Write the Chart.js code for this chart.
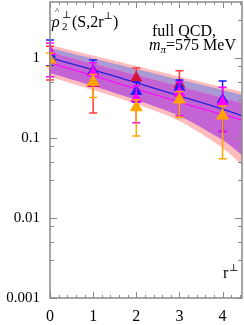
<!DOCTYPE html>
<html><head><meta charset="utf-8">
<script src="https://cdn.jsdelivr.net/npm/chart.js@4.4.1/dist/chart.umd.min.js"></script>
<style>html,body{margin:0;padding:0;background:#fff}#wrap{width:244px;height:325px}</style>
</head><body><div id="wrap"><canvas id="c" width="244" height="325"></canvas></div>
<script>
// data points (r⊥ = 0..4)
const rValues = [0, 1, 2, 3, 4];
const blueVal = [1.1, 0.68, 0.38, 0.43, 0.30];
const blueLo  = [0.8, 0.5, 0.28, 0.30, 0.12];
const blueHi  = [1.68, 0.94, 0.5, 0.53, 0.515];
const redVal  = [1.0, 0.48, 0.56, 0.47, null];
const redLo   = [0.53, 0.205, 0.38, 0.33, null];
const redHi   = [1.4, 0.72, 0.75, 0.69, null];
const magVal  = [1.2, 0.65, 0.31, 0.365, 0.28];
const magLo   = [0.58, 0.45, 0.155, 0.19, 0.12];
const magHi   = [1.54, 0.87, 0.45, 0.5, 0.43];
const orgVal  = [0.95, 0.5, 0.24, 0.30, 0.19];
const orgLo   = [0.78, 0.32, 0.106, 0.18, 0.055];
const orgHi   = [1.15, 0.62, 0.30, 0.38, 0.25];

// fit curves and bands
const fitR       = [0, 1, 2, 3, 4, 4.45];
const blueFit    = [1.0, 0.71, 0.49, 0.335, 0.23, 0.19];
const magFit     = [0.87, 0.6, 0.41, 0.28, 0.196, 0.168];
const pinkTop    = [1.454, 1.071, 0.794, 0.584, 0.432, 0.376];
const pinkBottom = [0.579, 0.398, 0.266, 0.163, 0.075, 0.046];
const lavTop     = [1.334, 0.986, 0.729, 0.536, 0.398, 0.345];
const orchidTop  = [1.189, 0.854, 0.615, 0.442, 0.318, 0.274];
const orchidBot  = [0.649, 0.447, 0.298, 0.188, 0.094, 0.061];

// axis ticks
const xMajorTicks = [0, 1, 2, 3, 4];
const xMinorTicks = [0.2,0.4,0.6,0.8,1.2,1.4,1.6,1.8,2.2,2.4,2.6,2.8,3.2,3.4,3.6,3.8,4.2,4.4];
const yMajorTicks = [0.001, 0.01, 0.1, 1];
const yMinorTicks = [0.003, 0.005, 0.008, 0.03, 0.05, 0.08, 0.3, 0.5, 0.8, 3];
const xRange = [0, 4.45];
const yRange = [0.001, 5];

const pts = (xs, ys) => xs.map((x, i) => ({x: x, y: ys[i]})).filter(p => p.y !== null);

function curve(ys, extra) {
  return Object.assign({type: 'line', data: pts(fitR, ys), pointRadius: 0, borderWidth: 0,
    tension: 0.3, fill: false}, extra);
}
function series(vals, lo, hi, color, barColor, radius, order) {
  return {type: 'scatter', data: pts(rValues, vals), errLo: lo, errHi: hi, barColor: barColor,
    pointStyle: 'triangle', pointRadius: radius, backgroundColor: color, borderColor: color,
    borderWidth: 0, order: order};
}

const datasets = [
  curve(pinkTop, {fill: 1, backgroundColor: '#ffbcbc', order: 20}),      // 0
  curve(pinkBottom, {order: 20}),                                        // 1
  curve(lavTop, {fill: 3, backgroundColor: '#a99ad6', order: 19}),       // 2
  curve(orchidTop, {fill: 4, backgroundColor: '#c463d3', order: 18}),    // 3
  curve(orchidBot, {order: 18}),                                         // 4
  curve(blueFit, {borderColor: '#2222dd', borderWidth: 1.3, order: 10}),
  curve(magFit, {borderColor: '#ff00ff', borderWidth: 1.1, order: 10}),
  series(redVal, redLo, redHi, '#d8143c', '#ff3a3a', 7, 5),
  series(blueVal, blueLo, blueHi, '#2020ff', '#1a1aff', 7, 4),
  series(magVal, magLo, magHi, '#ff00ff', '#ff00ff', 7, 3),
  series(orgVal, orgLo, orgHi, '#ffa500', '#ffa500', 7.5, 2)
];

const errorBars = {
  id: 'errorBars',
  beforeDatasetDraw(chart, args) {
    const ds = chart.data.datasets[args.index];
    if (!ds.errLo) return;
    const xs = chart.scales.x, ys = chart.scales.y, ctx = chart.ctx;
    ctx.save();
    ctx.strokeStyle = ds.barColor; ctx.lineWidth = 1.5;
    rValues.forEach((r, i) => {
      if (ds.errLo[i] == null) return;
      const px = xs.getPixelForValue(r);
      const y1 = ys.getPixelForValue(ds.errLo[i]), y2 = ys.getPixelForValue(ds.errHi[i]);
      ctx.beginPath();
      ctx.moveTo(px, y1); ctx.lineTo(px, y2);
      ctx.moveTo(px - 4, y1); ctx.lineTo(px + 4, y1);
      ctx.moveTo(px - 4, y2); ctx.lineTo(px + 4, y2);
      ctx.stroke();
    });
    ctx.restore();
  }
};

const frame = {
  id: 'frame',
  afterDraw(chart) {
    const {ctx, chartArea: a} = chart;
    const xs = chart.scales.x, ys = chart.scales.y;
    ctx.save();
    ctx.strokeStyle = '#8a8a8a'; ctx.lineWidth = 1.5;
    ctx.strokeRect(a.left, a.top, a.right - a.left, a.bottom - a.top);
    ctx.lineWidth = 1;
    ctx.beginPath();
    const tx = (v, len) => { const p = Math.round(xs.getPixelForValue(v)) + 0.5;
      ctx.moveTo(p, a.bottom); ctx.lineTo(p, a.bottom - len);
      ctx.moveTo(p, a.top); ctx.lineTo(p, a.top + len); };
    const ty = (v, len) => { const p = Math.round(ys.getPixelForValue(v)) + 0.5;
      ctx.moveTo(a.left, p); ctx.lineTo(a.left + len, p);
      ctx.moveTo(a.right, p); ctx.lineTo(a.right - len, p); };
    xMajorTicks.forEach(v => tx(v, 6));
    xMinorTicks.forEach(v => tx(v, 3));
    yMajorTicks.forEach(v => ty(v, 7));
    yMinorTicks.forEach(v => ty(v, 4));
    ctx.stroke();

    // texts
    ctx.fillStyle = '#000';
    ctx.textBaseline = 'alphabetic';
    const serif = '"Liberation Serif", "DejaVu Serif", serif';
    ctx.font = 'italic 16px ' + serif;
    ctx.fillText('ρ', 52, 27);
    ctx.font = '9px ' + serif;
    ctx.fillText('^', 55, 14);
    ctx.font = '10px ' + serif;
    ctx.fillText('⊥', 62, 18);
    ctx.font = '11px ' + serif;
    ctx.fillText('2', 62, 30);
    ctx.font = '16px ' + serif;
    let x = 72;
    ctx.fillText('(S,2r', x, 27); x += ctx.measureText('(S,2r').width;
    ctx.font = '10px ' + serif;
    ctx.fillText('⊥', x, 19); x += ctx.measureText('⊥').width;
    ctx.font = '16px ' + serif;
    ctx.fillText(')', x, 27);

    ctx.fillText('full QCD,', 152, 36);
    ctx.font = 'italic 16px ' + serif;
    ctx.fillText('m', 149, 50);
    x = 149 + ctx.measureText('m').width;
    ctx.font = 'italic 11px ' + serif;
    ctx.fillText('π', x, 53); x += ctx.measureText('π').width;
    ctx.font = '16px ' + serif;
    ctx.fillText('=575 MeV', x, 50);

    ctx.fillText('r', 223, 278);
    ctx.font = '10px ' + serif;
    ctx.fillText('⊥', 229, 271);
    ctx.restore();
  }
};

const noPad = s => {
  s.paddingLeft = 0; s.paddingRight = 0; s.paddingTop = 0; s.paddingBottom = 0;
};

new Chart(document.getElementById('c'), {
  data: {datasets: datasets},
  options: {
    responsive: false, animation: false, devicePixelRatio: 1,
    layout: {autoPadding: false, padding: {top: 2, right: 2, left: 0, bottom: 0}},
    plugins: {legend: {display: false}, tooltip: {enabled: false}},
    scales: {
      x: {type: 'linear', min: xRange[0], max: xRange[1], bounds: 'data',
        grid: {display: false, drawTicks: false}, border: {display: false},
        afterBuildTicks: s => { s.ticks = xMajorTicks.map(v => ({value: v})); s.min = xRange[0]; s.max = xRange[1]; },
        afterFit: s => { s.height = 27; noPad(s); },
        ticks: {padding: 9, color: '#000', autoSkip: false, maxRotation: 0,
          font: {family: '"Liberation Serif", serif', size: 16},
          callback: v => String(v)}},
      y: {type: 'logarithmic', min: yRange[0], max: yRange[1], bounds: 'data',
        grid: {display: false, drawTicks: false}, border: {display: false},
        afterBuildTicks: s => { s.ticks = yMajorTicks.map(v => ({value: v})); s.min = yRange[0]; s.max = yRange[1]; },
        afterFit: s => { s.width = 50; noPad(s); },
        ticks: {padding: 10, color: '#000', autoSkip: false,
          font: {family: '"Liberation Serif", serif', size: 15},
          callback: v => String(v)}}
    }
  },
  plugins: [errorBars, frame]
});
</script></body></html>
